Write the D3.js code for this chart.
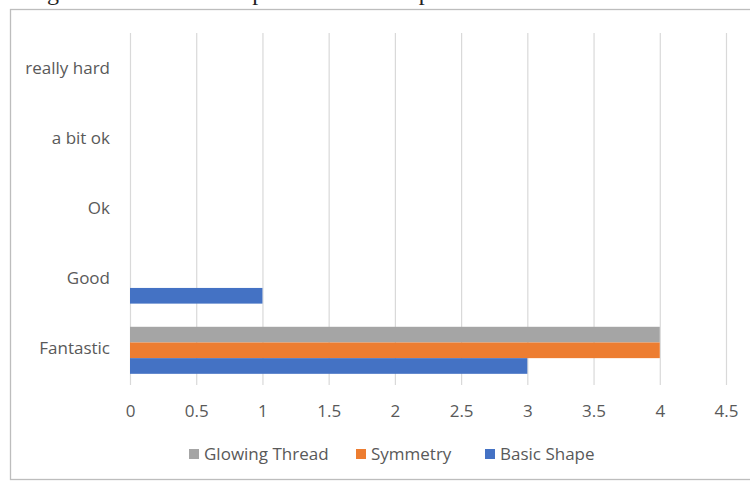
<!DOCTYPE html>
<html>
<head>
<meta charset="utf-8">
<script src="https://cdn.jsdelivr.net/npm/d3@7"></script>
<style>
  html, body { margin: 0; padding: 0; background: #fff; }
  svg { display: block; }
</style>
</head>
<body>
<svg id="chart" width="750" height="483"></svg>
<script>
// Ratings, listed bottom to top as they appear on the vertical axis
const categories = ["Fantastic", "Good", "Ok", "a bit ok", "really hard"];
// Series, in legend order (drawn top to bottom inside each group)
const seriesNames = ["Glowing Thread", "Symmetry", "Basic Shape"];
const glowingThread = [4, 0, 0, 0, 0];
const symmetry = [4, 0, 0, 0, 0];
const basicShape = [3, 1, 0, 0, 0];
const tickValues = [0, 0.5, 1, 1.5, 2, 2.5, 3, 3.5, 4, 4.5];
const colors = ["#A5A5A5", "#ED7D31", "#4472C4"];

const seriesValues = [glowingThread, symmetry, basicShape];

const svg = d3.select("#chart");
const font = "'Open Sans', 'Noto Sans', sans-serif";
const textColor = "#595959";

// Figure caption sitting above the chart frame
svg.append("text")
  .attr("x", 27).attr("y", 0)
  .attr("font-family", "'Liberation Serif', serif")
  .attr("font-size", 24)
  .attr("fill", "#222")
  .text("Figure 5: The students' performances on patterns");

// Chart frame
svg.append("rect")
  .attr("x", 10.5).attr("y", 9.5)
  .attr("width", 760).attr("height", 470)
  .attr("fill", "#fff")
  .attr("stroke", "#bdbdbd")
  .attr("stroke-width", 1.3);

const plot = { left: 130, right: 726, top: 33, bottom: 384 };

const x = d3.scaleLinear().domain([0, 4.5]).range([plot.left, plot.right]);
const y = d3.scaleBand().domain(categories.slice().reverse())
  .range([plot.top, plot.bottom]).paddingInner(0).paddingOuter(0);
const groupTop = y.bandwidth() * 0.185;
const groupBottom = y.bandwidth() * 0.855;
const inner = d3.scaleBand().domain(seriesNames)
  .range([groupTop, groupBottom]).padding(0);

// Vertical gridlines
svg.append("g")
  .selectAll("line")
  .data(tickValues)
  .join("line")
  .attr("x1", d => x(d) + 0.5).attr("x2", d => x(d) + 0.5)
  .attr("y1", plot.top).attr("y2", plot.bottom + 1)
  .attr("stroke", "#d9d9d9").attr("stroke-width", 1.2);

// Bars
const groups = svg.append("g")
  .selectAll("g")
  .data(categories)
  .join("g")
  .attr("transform", c => `translate(0,${y(c)})`);

groups.selectAll("rect")
  .data((c, i) => seriesNames.map((s, k) => ({ s, k, v: seriesValues[k][i] })))
  .join("rect")
  .attr("x", x(0))
  .attr("y", d => inner(d.s))
  .attr("width", d => x(d.v) - x(0))
  .attr("height", inner.bandwidth())
  .attr("fill", d => colors[d.k]);

// X axis tick labels
const xAxis = d3.axisBottom(x).tickValues(tickValues).tickSize(0).tickPadding(0)
  .tickFormat(d3.format("~g"));
const gx = svg.append("g").attr("transform", `translate(0,405)`).call(xAxis);
gx.select(".domain").remove();
gx.selectAll("text")
  .attr("font-family", font).attr("font-size", 17).attr("fill", textColor)
  .attr("dy", "0.71em");

// Y axis category labels
const yAxis = d3.axisLeft(y).tickSize(0).tickPadding(20);
const gy = svg.append("g").attr("transform", `translate(${plot.left},0)`).call(yAxis);
gy.select(".domain").remove();
gy.selectAll("text")
  .attr("font-family", font).attr("font-size", 17).attr("fill", textColor);

// Legend
const legendX = [189, 356, 485];
const legend = svg.append("g")
  .selectAll("g")
  .data(seriesNames)
  .join("g")
  .attr("transform", (d, i) => `translate(${legendX[i]},454)`);
legend.append("rect")
  .attr("x", 0).attr("y", -5).attr("width", 10).attr("height", 10)
  .attr("fill", (d, i) => colors[i]);
legend.append("text")
  .attr("x", 15).attr("y", 0).attr("dy", "0.35em")
  .attr("font-family", font).attr("font-size", 17).attr("fill", textColor)
  .text(d => d);
</script>
</body>
</html>
